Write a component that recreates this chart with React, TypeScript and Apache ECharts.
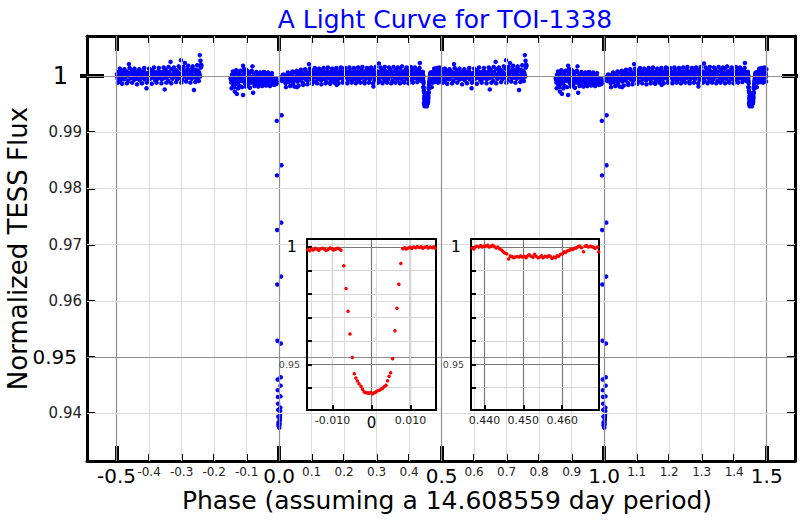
import React, { useEffect, useRef } from "react";
import * as echarts from "echarts";

const FONT = "DejaVu Sans";

// ---------- axes / ticks ----------
const X_MIN = -0.591;
const X_MAX = 1.587;
const Y_MIN = 0.9315;
const Y_MAX = 1.0071;
const xTicks = [-0.5, -0.4, -0.3, -0.2, -0.1, 0.0, 0.1, 0.2, 0.3, 0.4, 0.5, 0.6, 0.7, 0.8, 0.9, 1.0, 1.1, 1.2, 1.3, 1.4, 1.5];
const xMajorTicks = [-0.5, 0.0, 0.5, 1.0, 1.5];
const yTicks = [0.94, 0.95, 0.96, 0.97, 0.98, 0.99, 1.0];
const yMinorTicks = [0.94, 0.95, 0.96, 0.97, 0.98, 0.99];

const INSET_Y_MIN = 0.9305;
const INSET_Y_MAX = 1.0034;
const inset1XRange = [-0.0165, 0.0165];
const inset2XRange = [0.4365, 0.4695];
const inset1XTicks = [-0.01, 0, 0.01];
const inset2XTicks = [0.44, 0.45, 0.46];
const inset1XGrid = [-0.015, -0.01, -0.005, 0, 0.005, 0.01, 0.015];
const inset2XGrid = [0.44, 0.445, 0.45, 0.455, 0.46, 0.465];
const insetYLabels = [0.95, 1.0];

// ---------- main light curve (phase in 1e-3, flux deviation in 1e-4) ----------
const segA = [
  [-499, 3], [-497, -5], [-494, 7], [-492, 0], [-489, -8], [-487, 4], [-484, 9], [-482, -2], [-479, 1], [-477, -6],
  [-474, 6], [-472, -3], [-469, 8], [-467, 2], [-464, -9], [-462, 21], [-461, 5], [-459, 0], [-456, -4], [-454, 10],
  [-451, -1], [-449, 3], [-446, -7], [-444, 6], [-441, 1], [-439, -5], [-436, 8], [-434, -2], [-431, 4], [-429, -8],
  [-426, 2], [-424, 7], [-421, -3], [-419, 0], [-416, 9], [-414, -6], [-411, 3], [-408, -22], [-406, 5], [-404, -1],
  [-401, -7], [-399, 6], [-396, 2], [-394, -4], [-391, 10], [-389, 0], [-386, -3], [-384, 7], [-381, -8], [-379, 4],
  [-376, 1], [-374, -5], [-371, 9], [-369, -2], [-366, 3], [-364, 6], [-361, -6], [-359, 0], [-356, 8], [-354, -4],
  [-352, -24], [-351, 2], [-349, 11], [-346, -3], [-344, 5], [-341, -9], [-339, 7], [-336, 1], [-334, 25], [-333, -1],
  [-331, 12], [-328, -5], [-326, 4], [-323, 8], [-321, -2], [-318, 0], [-316, 10], [-313, -6], [-311, 6], [-308, 3],
  [-306, -3], [-303, 13], [-302, 28], [-300, 1], [-298, -7], [-295, 9], [-293, 4], [-290, 23], [-289, -1], [-287, 7],
  [-284, -4], [-282, 12], [-279, 2], [-277, -2], [-274, 10], [-272, 5], [-269, -5], [-267, 14], [-264, 0], [-262, -25],
  [-261, 8], [-259, -3], [-256, 11], [-254, 3], [-251, -6], [-249, 9], [-246, 6], [-244, 37], [-243, -1], [-242, 27],
  [-241, 15], [-239, 18],
  [-498, -1], [-493, 2], [-486, -3], [-481, 5], [-473, 0], [-466, 4], [-458, -2], [-450, 6], [-443, -4], [-435, 3],
  [-428, -1], [-420, 5], [-413, -2], [-405, 1], [-398, -5], [-390, 4], [-383, 0], [-375, 6], [-368, -3], [-360, 2],
  [-353, 7], [-345, -1], [-338, 4], [-330, -3], [-322, 6], [-315, 1], [-307, -2], [-299, 5], [-292, 0], [-285, 8],
  [-278, -3], [-270, 4], [-263, 9], [-257, -2], [-250, 5], [-245, 2],
  [-496, -12], [-490, 13], [-483, -14], [-476, 12], [-468, -13], [-460, 14], [-452, -12], [-445, 13], [-437, -15], [-430, 12],
  [-422, -13], [-415, 14], [-407, -12], [-400, 13], [-392, -14], [-385, 15], [-377, -12], [-370, 14], [-362, -13], [-355, 15],
  [-347, -12], [-340, 16], [-332, -13], [-324, 15], [-317, -11], [-309, 17], [-301, -12], [-294, 16], [-286, -10], [-280, 18],
  [-273, -12], [-266, 17], [-258, -11], [-252, 19], [-247, -9], [-240, 20],
];
const segB = [
  [-149, -4], [-147, -12], [-145, 2], [-143, -8], [-141, -16], [-139, 0], [-137, -10], [-136, -28], [-135, 4], [-133, -6],
  [-131, -14], [-130, -32], [-129, 6], [-127, -2], [-125, -11], [-123, 3], [-121, -18], [-119, -5], [-117, 9], [-115, -9],
  [-113, -1], [-111, 18], [-111, -34], [-109, -7], [-107, 5], [-105, -13], [-103, -3], [-101, 11], [-99, -8], [-97, 0],
  [-95, -15], [-93, 4], [-91, -6], [-89, -10], [-87, 7], [-85, -2], [-83, -12], [-82, 17], [-80, -30], [-79, -4],
  [-77, 3], [-75, -9], [-73, -1], [-71, -14], [-69, 5], [-67, -7], [-65, -3], [-63, -11], [-61, 2], [-59, -6],
  [-57, -16], [-55, 0], [-53, -8], [-51, -4], [-49, 6], [-47, -10], [-45, -2], [-43, -13], [-41, 3], [-39, -7],
  [-37, -5], [-35, -12], [-33, 1], [-31, -9], [-29, -3], [-27, -15], [-25, -6], [-23, 0], [-21, -11], [-19, -4],
  [-148, -7], [-144, -2], [-140, -9], [-134, -4], [-128, -10], [-122, -1], [-116, -7], [-110, 2], [-104, -9], [-98, -4],
  [-92, -12], [-86, -5], [-78, -8], [-72, 2], [-66, -10], [-60, -2], [-54, -12], [-48, -6], [-42, 0], [-36, -8],
  [-30, -12], [-24, -2], [-18, -8],
  [-146, -22], [-142, 8], [-138, -20], [-132, 10], [-126, -22], [-120, 9], [-114, -20], [-108, 12], [-102, -19], [-96, 8],
  [-90, -21], [-84, 9], [-76, -18], [-70, 7], [-64, -19], [-58, 6], [-52, -18], [-46, 7], [-40, -17], [-34, 6],
  [-28, -18], [-22, 5],
];
const segC = [
  [18, -6], [20, -13], [23, 1], [25, -8], [28, -2], [30, -11], [33, 4], [35, -5], [38, -9], [40, 0],
  [43, -14], [45, -3], [48, 6], [50, -7], [53, -1], [55, -20], [56, -10], [58, 3], [61, -5], [63, 8],
  [66, -8], [68, -2], [71, 5], [73, -12], [76, 1], [78, -4], [81, 9], [83, -6], [86, 2], [88, -9],
  [91, 6], [92, 21], [94, -3], [96, 0], [99, 10], [101, -7], [104, 4], [106, -2], [109, 8], [111, -10],
  [114, 1], [116, 6], [119, -5], [121, 11], [124, -1], [126, 3], [129, -8], [131, 7], [134, -3], [136, 12],
  [139, 0], [141, -6], [144, 5], [146, -11], [149, 9], [151, 2], [154, -4], [156, 7], [159, -9], [161, 4],
  [164, 0], [166, 10], [169, -5], [171, 3], [174, -2], [177, -16], [177, 8], [179, -8], [182, 5], [184, 1],
  [187, -4], [189, 11], [192, -1], [194, 6], [197, -10], [199, 3], [202, 9], [204, -3], [207, 0], [209, 7],
  [212, -7], [214, 4], [217, 12], [219, -2], [222, 2], [224, -9], [227, 6], [229, 0], [232, 10], [234, -5],
  [237, 3], [239, -1], [242, 8], [244, -8], [247, 5], [249, 1], [252, -4], [254, 11], [257, -2], [259, 6],
  [262, -10], [264, 2], [267, 9], [269, -3], [272, 4], [274, 0], [277, 13], [279, -6], [282, 7], [284, -1],
  [287, 3], [290, -19], [291, 10], [293, -7], [296, 5], [298, 1], [301, -4], [303, 8], [306, 0], [307, 22],
  [309, -9], [311, 6], [314, 2], [316, 11], [319, -3], [321, 4], [324, -8], [326, 9], [329, 1], [331, -2],
  [334, 7], [336, -6], [339, 3], [341, 12], [344, -1], [346, 5], [349, -9], [351, 8], [354, 0], [356, -4],
  [359, 10], [361, 2], [364, -7], [366, 6], [369, -1], [371, 13], [374, 3], [376, -5], [379, 8], [381, 0],
  [384, -10], [386, 5], [389, 11], [391, -2], [394, 4], [396, -6], [399, 9], [401, 1], [404, -3], [406, 7],
  [409, -8], [411, 12], [414, 2], [416, -4], [419, 6], [421, 0], [424, 10], [426, -7], [429, 3], [431, 8],
  [433, 23], [434, -2], [436, 5],
  [19, -3], [24, -9], [31, -6], [37, -1], [44, -8], [51, -4], [59, -7], [65, 0], [72, -3], [79, 2],
  [85, -6], [93, 4], [100, -4], [107, 3], [113, -2], [120, 5], [127, -4], [133, 2], [140, 6], [147, -3],
  [153, 4], [160, -1], [167, 5], [173, -5], [180, 2], [186, 7], [193, -4], [200, 1], [206, 5], [213, -2],
  [220, 6], [226, -5], [233, 3], [240, -2], [246, 7], [253, 0], [260, 4], [266, -5], [273, 6], [280, -2],
  [286, 8], [294, -1], [300, 5], [308, -3], [315, 4], [322, -1], [328, 6], [335, -4], [342, 3], [348, 7],
  [355, -2], [362, 5], [368, -4], [375, 2], [382, 6], [388, -3], [395, 4], [402, -1], [408, 5], [415, -2],
  [422, 4], [428, -3], [435, 6],
  [21, -20], [27, 6], [34, -18], [41, 8], [47, -19], [54, 9], [60, -17], [67, 11], [74, -16], [80, 12],
  [87, -15], [95, 13], [102, -14], [110, 14], [117, -13], [123, 13], [130, -15], [137, 14], [143, -13], [150, 15],
  [157, -14], [163, 13], [170, -12], [176, 14], [183, -13], [190, 15], [196, -12], [203, 14], [210, -13], [216, 15],
  [223, -12], [230, 14], [236, -13], [243, 15], [250, -12], [256, 16], [263, -13], [270, 14], [276, -12], [283, 15],
  [289, -13], [297, 16], [304, -12], [312, 15], [318, -13], [325, 16], [332, -12], [338, 15], [345, -13], [352, 16],
  [358, -12], [365, 15], [372, -13], [378, 17], [385, -12], [392, 15], [398, -13], [405, 16], [412, -12], [418, 15],
  [425, -11], [432, 14],
];
const segSecondaryDip = [
  [445.5, -48], [447.8, -54], [449.2, -51], [451.0, -53], [453.0, -50], [454.8, -54], [456.5, -48], [447.0, -35],
  [452.0, -32], [458.5, -35], [443.5, -20], [460.5, -22],
];
const segC2 = [
  [470, 3], [472, -6], [474, 8], [476, 0], [478, -9], [480, 5], [482, 11], [484, -3], [486, 2], [488, -7],
  [490, 9], [492, 1], [494, -4], [496, 6], [498, -1], [499, 12],
  [471, -2], [475, 4], [479, -3], [483, 6], [487, -1], [491, 3], [495, -5], [497, 2],
  [473, -12], [477, 13], [481, -11], [485, 14], [489, -12], [493, 15], [498, -10],
];

// ---------- inset data: primary eclipse ----------
const primaryEclipse = [
  [-0.0163, 0.9989], [-0.0158, 0.9984], [-0.0154, 0.9991], [-0.0149, 0.9987], [-0.0144, 0.9994], [-0.0139, 0.999],
  [-0.0135, 0.9986], [-0.013, 0.9992], [-0.0125, 0.9995], [-0.012, 0.999], [-0.0116, 0.9985], [-0.0111, 0.9989],
  [-0.0106, 0.9996], [-0.0101, 0.9993], [-0.0097, 0.9987], [-0.0092, 0.999], [-0.0087, 0.9995], [-0.0082, 0.9991],
  [-0.0078, 0.9986],
  [-0.0071, 0.992], [-0.0065, 0.9823], [-0.006, 0.9726], [-0.0055, 0.9629], [-0.0049, 0.9529], [-0.0044, 0.946],
  [-0.004, 0.9441], [-0.0036, 0.9429], [-0.0032, 0.9417], [-0.0027, 0.9406], [-0.0023, 0.9394], [-0.0019, 0.9383],
  [-0.0015, 0.9379], [-0.001, 0.9378], [-0.0006, 0.9377], [-0.0002, 0.938], [0.0003, 0.9374], [0.0007, 0.9379],
  [0.0011, 0.9382], [0.0015, 0.9386], [0.002, 0.9389], [0.0024, 0.9393], [0.0028, 0.9397], [0.0032, 0.9404],
  [0.0037, 0.941], [0.0041, 0.943], [0.0045, 0.9449], [0.0049, 0.9464], [0.0054, 0.9524], [0.006, 0.9643],
  [0.0065, 0.9739], [0.007, 0.9841], [0.0075, 0.993],
  [0.008, 0.9993], [0.0085, 0.9997], [0.0089, 0.9991], [0.0094, 0.9996], [0.0099, 0.9999], [0.0103, 0.9994],
  [0.0108, 1.0], [0.0113, 0.9997], [0.0117, 1.0002], [0.0122, 0.9998], [0.0127, 1.0001], [0.0131, 0.9995],
  [0.0136, 0.9999], [0.0141, 1.0002], [0.0145, 0.9996], [0.015, 1.0], [0.0155, 0.9997], [0.0159, 1.0001],
  [0.0163, 0.9995],
];

// ---------- inset data: secondary eclipse ----------
const secondaryEclipse = [
  [0.4368, 0.9996], [0.4372, 0.9991], [0.4376, 1.0], [0.438, 1.0003], [0.4385, 1.0], [0.439, 1.0006], [0.4394, 1.0],
  [0.4398, 1.0003], [0.4403, 1.0004], [0.4408, 1.0007], [0.4412, 1.0], [0.4416, 1.0003], [0.4421, 1.0007],
  [0.4426, 1.0001], [0.443, 0.9996], [0.4434, 1.0], [0.4439, 0.9991], [0.4444, 0.9987], [0.4448, 0.998],
  [0.4452, 0.9974], [0.4457, 0.9971], [0.4462, 0.9949], [0.4466, 0.9961], [0.4471, 0.9959], [0.4475, 0.9954],
  [0.4479, 0.9957], [0.4484, 0.9959], [0.4489, 0.9957], [0.4493, 0.9961], [0.4497, 0.9957], [0.4502, 0.996],
  [0.4507, 0.9954], [0.4511, 0.9963], [0.4515, 0.9967], [0.452, 0.996], [0.4525, 0.9956], [0.4529, 0.9969],
  [0.4533, 0.996], [0.4538, 0.9954], [0.4543, 0.9957], [0.4547, 0.9963], [0.4551, 0.9954], [0.4556, 0.996],
  [0.4561, 0.9957], [0.4565, 0.9963], [0.4569, 0.996], [0.4574, 0.9951], [0.4579, 0.9957], [0.4583, 0.9954],
  [0.4587, 0.9963], [0.4591, 0.996], [0.4596, 0.9969], [0.4601, 0.9971], [0.4605, 0.998], [0.4609, 0.9977],
  [0.4614, 0.9984], [0.4619, 0.9986], [0.4623, 0.9991], [0.4627, 0.9989], [0.4632, 0.9994], [0.4637, 0.9997],
  [0.4641, 1.0001], [0.4645, 1.0004], [0.465, 0.9997], [0.4655, 0.998], [0.4659, 1.0003], [0.4663, 1.0006],
  [0.4668, 1.0], [0.4673, 1.0003], [0.4677, 1.0001], [0.4681, 0.9999], [0.4685, 0.9994], [0.4691, 1.0],
  [0.4694, 0.998],
];

// ---------- build ----------
const fromUnits = (pairs: number[][]) => pairs.map(([p, d]) => [p / 1000, 1 + d / 10000]);
const onePeriod = [
  ...fromUnits(segA),
  ...fromUnits(segB),
  ...primaryEclipse,
  ...fromUnits(segC),
  ...secondaryEclipse,
  ...fromUnits(segSecondaryDip),
  ...fromUnits(segC2),
];
// phase-folded curve is shown twice: phase and phase + 1
const mainPoints = onePeriod.flatMap(([p, f]) => [[p, f], [p + 1, f]]);

const isMajorX = (v: number) => Math.abs(v * 2 - Math.round(v * 2)) < 1e-6;
const near = (a: number, b: number) => Math.abs(a - b) < 1e-9;

const LIGHT = { color: "#dcdcdc", width: 1, type: "solid" };
const DARK = { color: "#8f8f8f", width: 1.2, type: "solid" };
const ILIGHT = { color: "#d6d6d6", width: 1, type: "solid" };
const IDARK = { color: "#7a7a7a", width: 1.2, type: "solid" };

const markLines = (data: any[]) => ({
  silent: true,
  symbol: ["none", "none"],
  label: { show: false },
  emphasis: { disabled: true },
  animation: false,
  data,
});

const base = (gridIndex: number, min: number, max: number, position: string, z = 0) => ({
  type: "value",
  gridIndex,
  min,
  max,
  position,
  z,
  axisLine: { show: false, onZero: false },
  axisTick: { show: false },
  axisLabel: { show: false },
  splitLine: { show: false },
});

const frameLine = (w: number) => ({ show: true, onZero: false, lineStyle: { color: "#000", width: w } });
const ticks = (values: number[], inside: boolean, length: number, width: number) => ({
  show: true,
  inside,
  length,
  customValues: values,
  lineStyle: { color: "#000", width },
});

function buildOption() {
  const xAxis = [
    {
      ...base(0, X_MIN, X_MAX, "bottom"),
      axisLine: frameLine(3),
      axisTick: ticks(xTicks, true, 7, 2),
      axisLabel: {
        show: true,
        customValues: xTicks,
        margin: 5,
        formatter: (v: number) => (isMajorX(v) ? `{b|${v.toFixed(1)}}` : `{s|${v.toFixed(1)}}`),
        rich: {
          b: { fontSize: 20, color: "#000", fontFamily: FONT },
          s: { fontSize: 12, color: "#222", fontFamily: FONT },
        },
      },
      name: "Phase (assuming a 14.608559 day period)",
      nameLocation: "middle",
      nameGap: 27,
      nameMoveOverlap: false,
      nameTextStyle: { fontSize: 25, color: "#000", fontFamily: FONT, padding: [0, 0, 0, 12] },
    },
    { ...base(0, X_MIN, X_MAX, "bottom"), axisTick: ticks(xMajorTicks, true, 15, 4) },
    { ...base(0, X_MIN, X_MAX, "top"), axisLine: frameLine(3), axisTick: ticks(xTicks, true, 7, 2) },
    { ...base(0, X_MIN, X_MAX, "top"), axisTick: ticks(xMajorTicks, true, 15, 4) },
    {
      ...base(1, inset1XRange[0], inset1XRange[1], "bottom", 5),
      axisLine: frameLine(2),
      axisTick: ticks(inset1XTicks, true, 5, 2),
      axisLabel: {
        show: true,
        customValues: inset1XTicks,
        margin: 5,
        formatter: (v: number) => (near(v, 0) ? "{b|0}" : `{s|${v.toFixed(3)}}`),
        rich: {
          b: { fontSize: 15, color: "#000", fontFamily: FONT },
          s: { fontSize: 11, color: "#222", fontFamily: FONT },
        },
      },
    },
    { ...base(1, inset1XRange[0], inset1XRange[1], "top", 5), axisLine: frameLine(2) },
    {
      ...base(2, inset2XRange[0], inset2XRange[1], "bottom", 5),
      axisLine: frameLine(2),
      axisTick: ticks(inset2XTicks, true, 5, 2),
      axisLabel: {
        show: true,
        customValues: inset2XTicks,
        margin: 5,
        formatter: (v: number) => `{s|${v.toFixed(3)}}`,
        rich: { s: { fontSize: 11, color: "#222", fontFamily: FONT } },
      },
    },
    { ...base(2, inset2XRange[0], inset2XRange[1], "top", 5), axisLine: frameLine(2) },
  ];

  const insetYLeft = (grid: number) => ({
    ...base(grid, INSET_Y_MIN, INSET_Y_MAX, "left", 5),
    axisLine: frameLine(2),
    axisTick: ticks(yTicks, true, 5, 2),
    axisLabel: {
      show: true,
      customValues: insetYLabels,
      margin: 7,
      formatter: (v: number) => (near(v, 1) ? "{b|1}" : "{s|0.95}"),
      rich: {
        b: { fontSize: 16, color: "#000", fontFamily: FONT, padding: [0, 3, 0, 0] },
        s: { fontSize: 9.5, color: "#444", fontFamily: FONT },
      },
    },
  });

  const yAxis = [
    {
      ...base(0, Y_MIN, Y_MAX, "left"),
      axisLine: frameLine(3),
      axisTick: ticks(yMinorTicks, true, 8, 2),
      axisLabel: {
        show: true,
        customValues: yTicks,
        margin: 5,
        formatter: (v: number) =>
          near(v, 1) ? "{b1|1}" : near(v, 0.95) ? "{b|0.95}" : `{s|${v.toFixed(2)}}`,
        rich: {
          b1: { fontSize: 24, color: "#000", fontFamily: FONT, padding: [0, 14, 0, 0] },
          b: { fontSize: 20, color: "#000", fontFamily: FONT, padding: [0, 5, 0, 0] },
          s: { fontSize: 15, color: "#222", fontFamily: FONT },
        },
      },
      name: "Normalized TESS Flux",
      nameLocation: "middle",
      nameGap: 56,
      nameMoveOverlap: false,
      nameTextStyle: { fontSize: 26, color: "#000", fontFamily: FONT },
    },
    { ...base(0, Y_MIN, Y_MAX, "left"), axisTick: ticks([1], true, 17, 4) },
    { ...base(0, Y_MIN, Y_MAX, "left"), axisTick: ticks([1], false, 7, 4) },
    { ...base(0, Y_MIN, Y_MAX, "right"), axisLine: frameLine(3), axisTick: ticks(yMinorTicks, true, 8, 2) },
    { ...base(0, Y_MIN, Y_MAX, "right"), axisTick: ticks([1], true, 13, 4) },
    { ...base(0, Y_MIN, Y_MAX, "right"), axisTick: ticks([1], false, 3, 4) },
    insetYLeft(1),
    { ...base(1, INSET_Y_MIN, INSET_Y_MAX, "right", 5), axisLine: frameLine(2) },
    insetYLeft(2),
    { ...base(2, INSET_Y_MIN, INSET_Y_MAX, "right", 5), axisLine: frameLine(2) },
  ];

  const mainGridLines = [
    ...xTicks.filter((v) => !near(v, 0.5)).map((v) => ({ xAxis: v, lineStyle: isMajorX(v) ? DARK : LIGHT })),
    ...yTicks.map((v) => ({ yAxis: v, lineStyle: near(v, 1) || near(v, 0.95) ? DARK : LIGHT })),
  ];
  const insetGridLines = (xs: number[], majors: number[]) => [
    ...xs.map((v) => ({ xAxis: v, lineStyle: majors.some((m) => near(m, v)) ? IDARK : ILIGHT })),
    ...yTicks.map((v) => ({ yAxis: v, lineStyle: near(v, 1) || near(v, 0.95) ? IDARK : ILIGHT })),
  ];

  const gridBase = { containLabel: false, outerBoundsMode: "none" };

  return {
    animation: false,
    backgroundColor: "#fff",
    textStyle: { fontFamily: FONT },
    title: {
      text: "A Light Curve for TOI-1338",
      left: 440,
      top: 2,
      textAlign: "center",
      textStyle: { fontSize: 25, fontWeight: "normal", color: "#0000ff", fontFamily: FONT },
    },
    grid: [
      { ...gridBase, left: 87, top: 36, width: 708, height: 425 },
      { ...gridBase, left: 307, top: 239, width: 129, height: 171 },
      { ...gridBase, left: 471, top: 239, width: 128, height: 171 },
    ],
    graphic: [
      { type: "rect", silent: true, z: 2, shape: { x: 280, y: 236, width: 323, height: 197 }, style: { fill: "#fff" } },
      { type: "rect", silent: true, z: 2, shape: { x: 278, y: 300, width: 4, height: 133 }, style: { fill: "#fff" } },
      { type: "rect", silent: true, z: 2, shape: { x: 602, y: 300, width: 4, height: 133 }, style: { fill: "#fff" } },
    ],
    xAxis,
    yAxis,
    series: [
      { type: "scatter", xAxisIndex: 0, yAxisIndex: 0, z: 1, data: [], markLine: markLines(mainGridLines) },
      { type: "scatter", xAxisIndex: 0, yAxisIndex: 0, z: 3, data: [], markLine: markLines([{ xAxis: 0.5, lineStyle: DARK }]) },
      {
        type: "scatter",
        xAxisIndex: 0,
        yAxisIndex: 0,
        z: 3,
        symbolSize: 4.5,
        itemStyle: { color: "#0000ff", opacity: 1 },
        data: mainPoints,
        silent: true,
      },
      { type: "scatter", xAxisIndex: 4, yAxisIndex: 6, z: 4, data: [], markLine: markLines(insetGridLines(inset1XGrid, inset1XTicks)) },
      {
        type: "scatter",
        xAxisIndex: 4,
        yAxisIndex: 6,
        z: 6,
        symbolSize: 3.5,
        itemStyle: { color: "#ff0000", opacity: 1 },
        data: primaryEclipse,
        silent: true,
      },
      { type: "scatter", xAxisIndex: 6, yAxisIndex: 8, z: 4, data: [], markLine: markLines(insetGridLines(inset2XGrid, inset2XTicks)) },
      {
        type: "scatter",
        xAxisIndex: 6,
        yAxisIndex: 8,
        z: 6,
        symbolSize: 3.5,
        itemStyle: { color: "#ff0000", opacity: 1 },
        data: secondaryEclipse,
        silent: true,
      },
    ],
  };
}

export default function App() {
  const ref = useRef<HTMLDivElement>(null);
  useEffect(() => {
    document.body.style.margin = "0";
    const chart = echarts.init(ref.current as HTMLDivElement, null, { renderer: "svg" });
    chart.setOption(buildOption() as any);
    return () => chart.dispose();
  }, []);
  return <div ref={ref} style={{ width: 800, height: 520 }} />;
}
